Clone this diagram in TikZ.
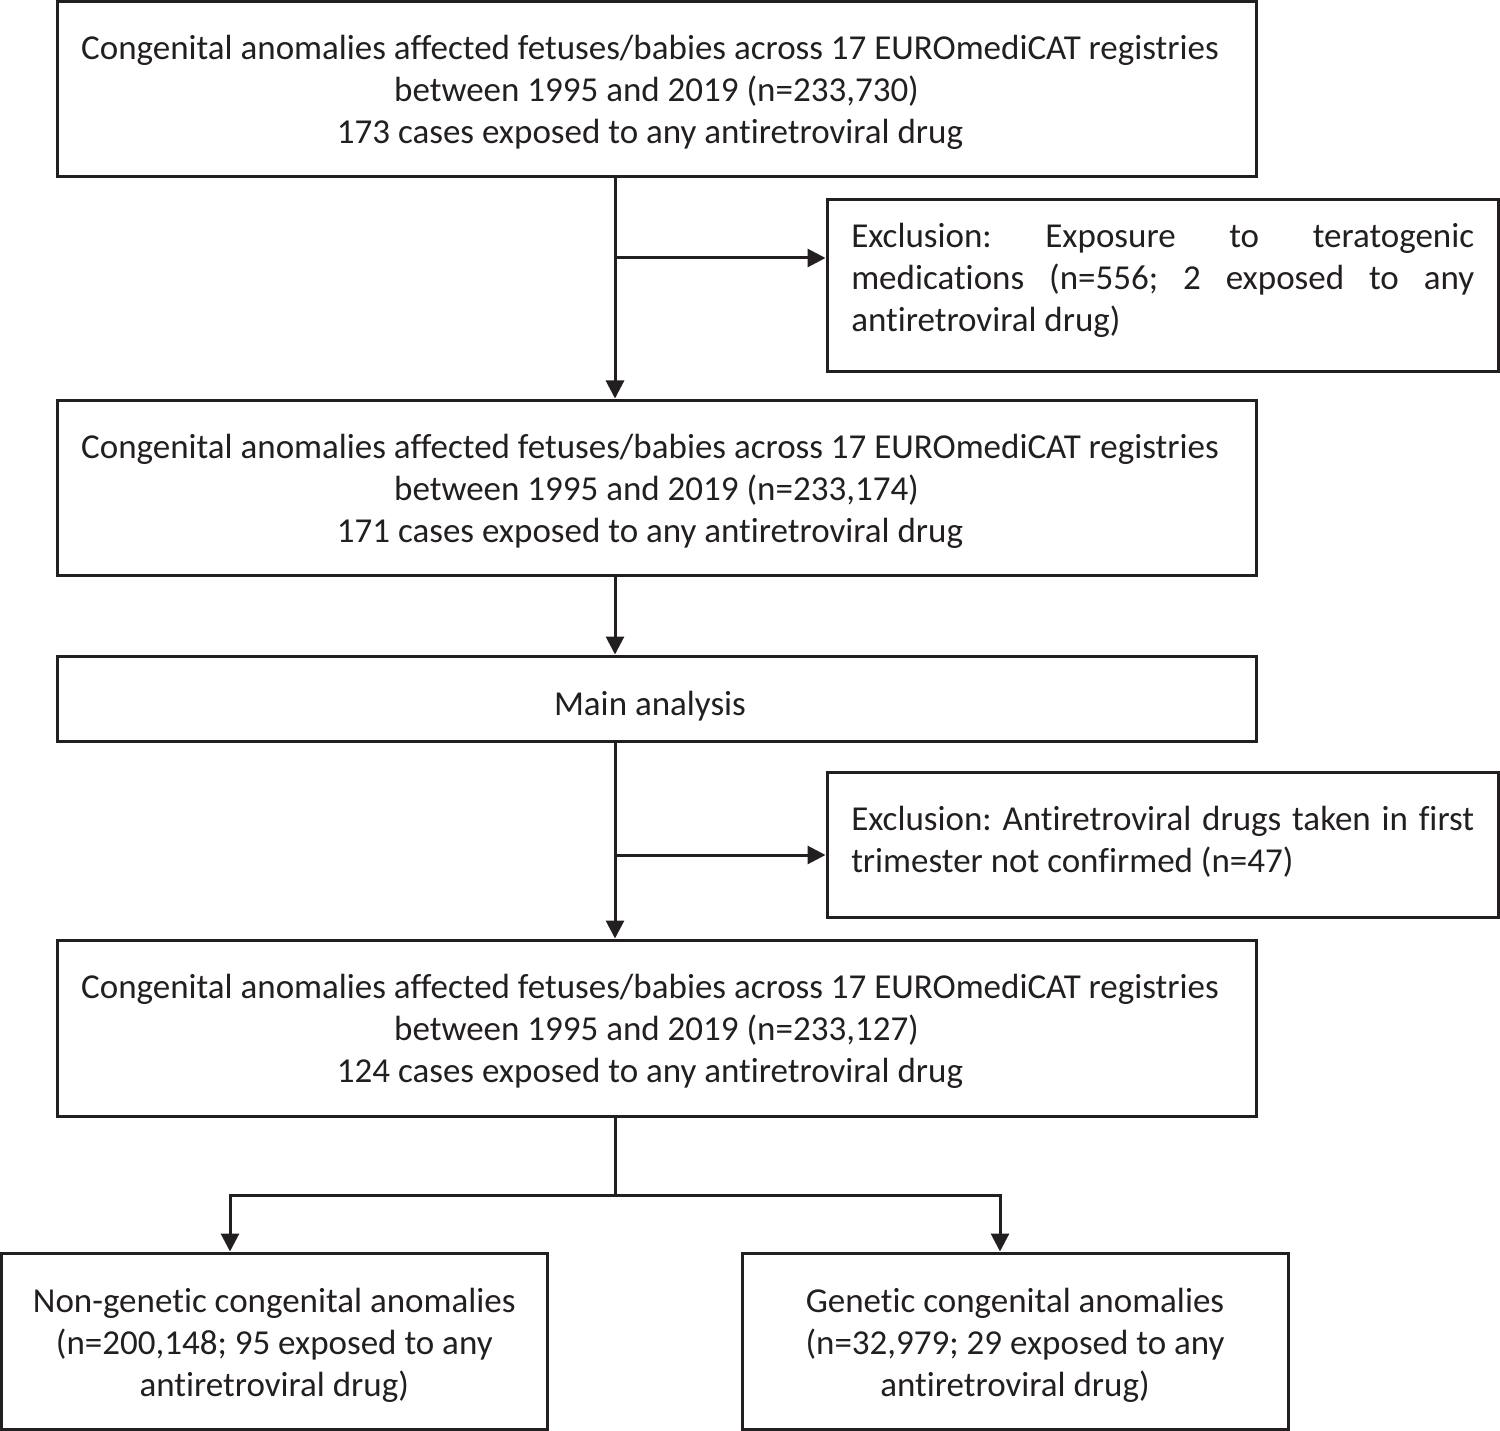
\documentclass[tikz,border=0pt]{standalone}
\usepackage{fontspec}
\setmainfont{Carlito}[Ligatures=CommonOff]
\usetikzlibrary{arrows.meta}
\definecolor{ink}{RGB}{35,31,32}
\newcommand{\lsh}{\hspace*{13pt}}
\newcommand{\natsp}{\spaceskip=0pt\xspaceskip=0pt\relax}
\begin{document}
\begin{tikzpicture}[x=1pt,y=1pt,
  every node/.style={font=\fontsize{35pt}{42pt}\selectfont, text=ink},
  box/.style={draw=ink, line width=3pt, rectangle, inner sep=0pt, align=center},
  three/.style={text height=109.5pt, text depth=0pt},
  arr/.style={draw=ink, line width=3pt, -{Triangle[length=18pt,width=18pt]}},
  ln/.style={draw=ink, line width=3pt}]
\useasboundingbox (0,0) rectangle (1500,-1431);
\fill[white] (0,0) rectangle (1500,-1431);

\node[box, three, minimum width=1199pt, minimum height=175.5pt] (b1) at (656.5,-89.25)
  {Congenital anomalies affected fetuses/babies across 17 EUROmediCAT registries\lsh\\
   between 1995 and 2019 (n=233,730)\lsh\\
   173 cases exposed to any antiretroviral drug\lsh};

\node[box, minimum width=671.5pt, minimum height=172pt, text width=623pt, align=left,
      text height=0pt, text depth=76pt] (b2) at (1162.75,-286)
  {\natsp Exclusion:\hfill Exposure\hfill to\hfill teratogenic\\
   medications\hfill (n=556;\hfill 2\hfill exposed\hfill to\hfill any\\
   antiretroviral drug)\hfill\mbox{}};

\node[box, three, minimum width=1199pt, minimum height=175pt] (b3) at (656.5,-487.5)
  {Congenital anomalies affected fetuses/babies across 17 EUROmediCAT registries\lsh\\
   between 1995 and 2019 (n=233,174)\lsh\\
   171 cases exposed to any antiretroviral drug\lsh};

\node[box, minimum width=1199pt, minimum height=85pt, text height=33pt, text depth=0pt] (b4) at (656.5,-698.5)
  {Main analysis\lsh};

\node[box, minimum width=671.5pt, minimum height=145pt, text width=623pt, align=left,
      text height=0pt, text depth=29pt] (b5) at (1162.75,-844.5)
  {\natsp Exclusion:\hfill Antiretroviral\hfill drugs\hfill taken\hfill in\hfill first\\
   trimester not confirmed (n=47)\hfill\mbox{}};

\node[box, three, minimum width=1199pt, minimum height=176pt] (b6) at (656.5,-1028)
  {Congenital anomalies affected fetuses/babies across 17 EUROmediCAT registries\lsh\\
   between 1995 and 2019 (n=233,127)\lsh\\
   124 cases exposed to any antiretroviral drug\lsh};

\node[box, three, minimum width=545.5pt, minimum height=176.5pt] (b7) at (274.25,-1341.25)
  {Non-genetic congenital anomalies\\
   (n=200,148; 95 exposed to any\\
   antiretroviral drug)};

\node[box, three, minimum width=546pt, minimum height=176.5pt] (b8) at (1015,-1341.25)
  {Genetic congenital anomalies\\
   (n=32,979; 29 exposed to any\\
   antiretroviral drug)};

\coordinate (tx) at (615,0);
\coordinate (j1) at (615,-258);
\coordinate (j2) at (615,-855);
\coordinate (j3) at (615,-1195);
\coordinate (lx) at (230,0);
\coordinate (rx) at (1000,0);

\draw[arr] (b1.south -| tx) -- (b3.north -| tx);
\draw[arr] (j1) -- (j1 -| b2.west);
\draw[arr] (b3.south -| tx) -- (b4.north -| tx);
\draw[arr] (b4.south -| tx) -- (b6.north -| tx);
\draw[arr] (j2) -- (j2 -| b5.west);
\draw[ln] (b6.south -| tx) -- (j3);
\draw[arr] (j3) -| (b7.north -| lx);
\draw[arr] (j3) -| (b8.north -| rx);
\end{tikzpicture}
\end{document}
